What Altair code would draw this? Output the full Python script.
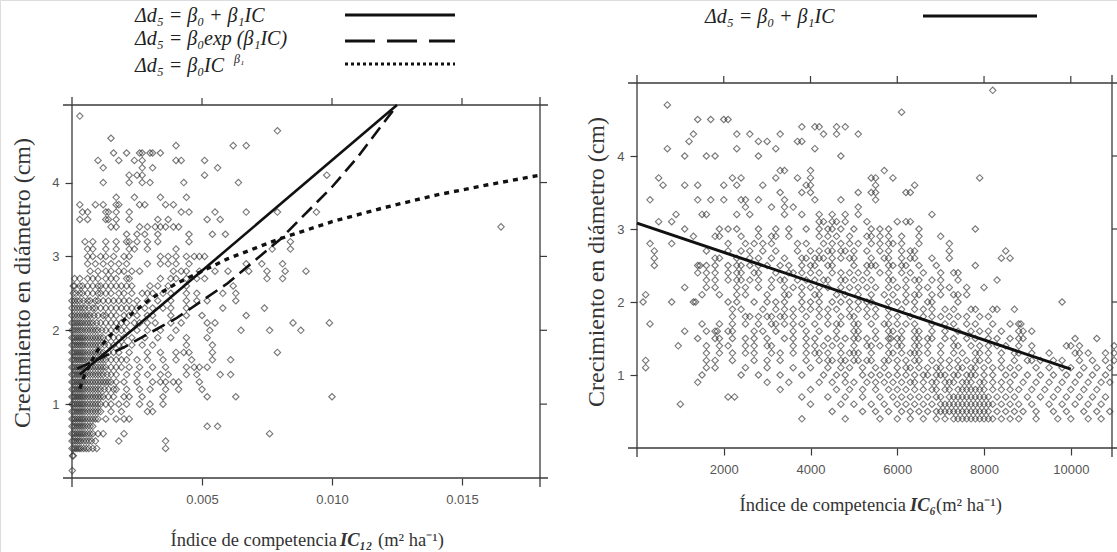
import altair as alt
import pandas as pd

# ---------------- data ----------------
# Left panel: growth levels (cm) and, for each level, IC12 values in units of 1e-4 (m2 ha-1)
left_growth = [4.9, 4.7, 4.6, 4.5, 4.4, 4.3, 4.2, 4.1, 4.0, 3.8, 3.7, 3.6, 3.5, 3.4, 3.3,
               3.2, 3.1, 3.0, 2.9, 2.8, 2.7, 2.6, 2.5, 2.4, 2.3, 2.2, 2.1, 2.0, 1.9, 1.8,
               1.7, 1.6, 1.5, 1.4, 1.3, 1.2, 1.1, 1.0, 0.9, 0.8, 0.7, 0.6, 0.5, 0.4, 0.3, 0.1]
left_ic12_e4 = [
    [3], [79], [15], [40, 62, 67], [16, 21, 26, 27, 30, 31, 34],
    [10, 18, 24, 27, 40, 42, 51], [12, 27, 31, 56], [22, 25, 27, 51, 98],
    [12, 22, 27, 30, 43, 64], [17, 24, 34, 44],
    [3, 9, 12, 17, 18, 26, 28, 36, 39],
    [4, 6, 13, 14, 17, 22, 42, 45, 55, 67, 79, 94],
    [3, 6, 13, 14, 17, 22, 33, 37, 52, 57],
    [15, 17, 26, 29, 32, 34, 36, 39, 41, 165],
    [21, 25, 28, 33, 45, 54, 59],
    [5, 8, 13, 17, 21, 22, 25, 29, 33, 45, 84],
    [6, 8, 13, 17, 22, 24, 29, 40, 77, 84],
    [6, 8, 11, 13, 16, 20, 22, 34, 37, 40, 44, 47, 49, 51],
    [6, 9, 12, 15, 18, 21, 29, 34, 37, 40, 45, 67, 73, 81],
    [7, 10, 13, 15, 18, 20, 23, 26, 39, 42, 44, 49, 55, 60, 68, 75, 82, 90],
    [1, 3, 6, 8, 10, 13, 15, 17, 21, 22, 34, 38, 40, 44, 48, 51, 75, 81],
    [0.5, 1, 3, 4, 6, 8, 10, 11, 13, 15, 17, 19, 21, 23, 30, 33, 37, 44, 62],
    [0.5, 1.5, 3, 4, 6, 8, 10, 11, 13, 15, 18, 20, 23, 27, 29, 31, 35, 38, 44, 48, 58, 63],
    [0, 1, 2, 3, 4.5, 6, 7, 9, 10, 12, 14, 16, 18, 20, 22, 25, 29, 33, 38, 44, 48, 52, 63],
    [0, 1, 2, 3, 4, 5, 6.5, 8, 9, 11, 13, 15, 17, 19, 21, 23, 25, 28, 31, 35, 38, 44, 58, 74],
    [0, 1, 2, 3, 4, 5, 6, 7, 8.5, 10, 12, 13, 15, 17, 20, 22, 25, 29, 31, 38, 44, 50, 67],
    [0, 0.8, 1.6, 2.4, 3.2, 4, 5, 6, 7, 8, 9.5, 11, 13, 15, 17, 19, 21, 24, 26, 29, 32, 38, 42, 52, 55, 85, 99],
    [0, 0.8, 1.6, 2.4, 3.2, 4, 5, 6, 7, 8, 9, 10, 11.5, 13, 15, 17, 19, 21, 25, 29, 34, 40, 53, 65, 76, 88],
    [0, 0.7, 1.4, 2.1, 2.8, 3.5, 4.2, 5, 6, 7, 8, 9, 10, 11, 12, 14, 16, 18, 20, 23, 28, 33, 38, 44, 52],
    [0, 0.7, 1.4, 2.1, 2.8, 3.5, 4.2, 5, 6, 7, 8, 9, 10, 11, 12.5, 14, 16, 18, 20, 23, 27, 31, 44, 54],
    [0, 0.7, 1.4, 2.1, 2.8, 3.5, 4.2, 5, 6, 7, 8, 9, 10, 11, 12, 14, 16, 18, 22, 29, 34, 40, 43, 45, 54, 79],
    [0, 0.7, 1.4, 2.1, 2.8, 3.5, 4.2, 5, 6, 7, 8, 9, 10, 11, 12, 13, 15, 17, 19, 21, 25, 29, 35, 40, 46, 54, 61],
    [0, 0.7, 1.4, 2.1, 2.8, 3.5, 4.2, 5, 6, 7, 8, 9, 10, 11, 12, 13, 15, 17, 19, 22, 26, 31, 36, 44, 47, 49, 52],
    [0, 0.7, 1.4, 2.1, 2.8, 3.5, 4.2, 5, 6, 7, 8, 9, 10, 11, 12, 13.5, 15, 17, 21, 25, 29, 34, 37, 44, 48, 57, 61],
    [0, 0.7, 1.4, 2.1, 2.8, 3.5, 4.2, 5, 6, 7, 8, 9, 10, 11, 12, 13, 14, 15, 17, 20, 25, 31, 34, 36, 39, 41, 49],
    [0, 0.7, 1.4, 2.1, 2.8, 3.5, 4.2, 5, 6, 7, 8, 9, 10, 11, 12.5, 14, 16, 17, 21, 26, 30, 36, 41, 50],
    [0, 0.7, 1.4, 2.1, 2.8, 3.5, 4.2, 5, 6, 7, 8, 9, 10, 11, 12, 14, 16, 20, 22, 27, 35, 52, 63, 100],
    [0, 0.7, 1.4, 2.1, 2.8, 3.5, 4.2, 5, 6, 7, 8, 9, 10, 11, 13, 15, 18, 21, 26, 30, 35],
    [0, 0.7, 1.4, 2.1, 2.8, 3.5, 4.2, 5, 6, 7, 8, 9, 10, 11, 15, 19, 29, 31],
    [0, 0.7, 1.4, 2.1, 2.8, 3.5, 4.2, 5, 6, 7, 8, 9, 10, 13, 17, 20, 22],
    [0, 0.7, 1.4, 2.1, 2.8, 3.5, 4.2, 5, 6, 7, 8, 52, 56],
    [0, 0.7, 1.4, 2.1, 2.8, 3.5, 4.2, 5, 6, 7, 8, 10, 12, 20, 76],
    [0, 0.7, 1.4, 2.1, 2.8, 3.5, 4.5, 5.5, 6.5, 7.5, 9, 18, 36],
    [0, 0.7, 1.4, 2.1, 2.8, 3.5, 4.5, 5.5, 6.5, 8, 9.5, 36],
    [0.2, 0.5], [0.1],
]

# Left panel fitted curves, IC12 in units of 1e-4
lin_ic_e4 = [3, 125]
lin_growth = [1.40, 5.05]
exp_ic_e4 = [2, 20, 40, 60, 80, 100, 110, 124]
exp_growth = [1.48, 1.77, 2.16, 2.64, 3.23, 3.94, 4.35, 5.0]
pow_ic_e4 = [3, 5, 10, 20, 30, 40, 60, 80, 100, 120, 140, 160, 180]
pow_growth = [1.21, 1.41, 1.74, 2.14, 2.42, 2.63, 2.97, 3.24, 3.47, 3.66, 3.83, 3.97, 4.10]

# Right panel: growth levels (cm) and, for each level, IC6 values in hundreds (m2 ha-1)
right_growth = [4.9, 4.7, 4.6, 4.5, 4.4, 4.3, 4.2, 4.1, 4.0, 3.8, 3.7, 3.6, 3.5, 3.4, 3.3,
                3.2, 3.1, 3.0, 2.9, 2.8, 2.7, 2.6, 2.5, 2.4, 2.3, 2.2, 2.1, 2.0, 1.9, 1.8,
                1.7, 1.6, 1.5, 1.4, 1.3, 1.2, 1.1, 1.0, 0.9, 0.8, 0.7, 0.6, 0.5, 0.4]
right_ic6_e2 = [
    [82], [7], [61], [14, 17, 20, 21], [38, 41, 42, 46, 48],
    [13, 23, 26, 33, 43, 46, 51], [12, 28, 30, 37, 38], [7, 23, 32, 41],
    [11, 16, 18, 28, 47], [33, 34, 40, 57],
    [5, 22, 24, 32, 37, 40, 54, 55, 59, 79],
    [6, 11, 14, 20, 23, 29, 39, 40, 55, 64],
    [33, 38, 40, 51, 54, 55, 62, 63],
    [3, 14, 17, 20, 24, 25, 28, 34, 41, 47, 55],
    [25, 31, 34, 36, 51],
    [9, 15, 16, 23, 26, 34, 38, 42, 45, 48, 51, 68],
    [5, 8, 42, 43, 45, 46, 48, 53, 60, 62, 63],
    [11, 19, 21, 23, 28, 32, 35, 39, 42, 44, 45, 47, 50, 54, 56, 58, 65, 78],
    [13, 18, 19, 24, 28, 31, 32, 35, 42, 44, 46, 49, 53, 54, 56, 58, 61, 65, 70],
    [3, 8, 21, 25, 27, 29, 31, 37, 39, 43, 45, 47, 49, 51, 54, 56, 58, 59, 61, 65, 72],
    [4, 16, 21, 24, 26, 29, 32, 37, 40, 42, 44, 45, 47, 48, 50, 53, 56, 58, 61, 63, 64, 72, 85],
    [4, 18, 19, 23, 26, 28, 31, 34, 38, 39, 41, 42, 43, 45, 47, 49, 50, 54, 57, 58, 61, 63, 64, 68, 72, 84, 86],
    [4, 14, 14.5, 16, 18, 21, 23, 24, 26, 28, 30, 33, 35, 38, 40, 41, 44, 45, 50, 53, 54, 55, 58, 59, 61, 62, 65, 69, 78],
    [14, 16, 18, 21, 23, 24, 27, 28, 32, 35, 36, 38, 40, 42, 45, 47, 49, 51, 53, 56, 58, 61, 63, 66, 70, 73, 74],
    [16, 18, 21, 23, 24, 26, 28, 31, 33, 34, 37, 39, 41, 43, 44, 47, 48, 50, 52, 54, 58, 59, 62, 64, 65, 68, 70, 74, 83],
    [11, 16, 18, 23, 25, 28, 31, 34, 36, 38, 40, 42, 44, 47, 49, 51, 53, 55, 58, 60, 62, 65, 67, 70, 72, 76, 80],
    [2, 15, 19, 23, 25, 30, 34, 35, 38, 41, 42, 46, 48, 51, 54, 57, 59, 62, 64, 65, 68, 70, 73, 74, 76],
    [1.4, 8, 13, 13.5, 21, 23, 27, 30, 32, 34, 38, 40, 42, 45, 47, 49, 51, 53, 54, 58, 60, 62, 64, 67, 68, 74, 98],
    [22, 24, 29, 32, 34, 36, 38, 40, 42, 44, 46, 49, 51, 53, 55, 58, 61, 64, 66, 68, 71, 73, 77, 78, 82, 83, 87],
    [22, 25, 26, 28, 30, 31, 33, 34, 36, 39, 42, 44, 47, 49, 50, 53, 55, 58, 60, 63, 66, 68, 70, 72, 74, 76, 79, 81],
    [3, 15, 19, 22, 25, 28, 31, 32, 34, 36, 38, 41, 44, 46, 47, 50, 51, 54, 57, 58, 60, 62, 64, 68, 71, 73, 76, 78, 82, 86, 88, 88.5],
    [11, 16, 18, 18.5, 21, 22, 27, 29, 32, 36, 39, 42, 46, 50, 51, 55, 58, 59, 61, 64, 65, 68, 71, 74, 77, 79, 81, 84, 88, 89, 91],
    [14, 18, 19, 22, 25, 27, 30, 34, 36, 39, 41, 44, 46, 48, 50, 51, 53, 55, 58, 58.5, 60, 61, 64, 65, 67, 68, 71, 73, 76, 78, 81, 83, 86, 88, 89, 101, 106],
    [9.5, 16, 19, 21, 25, 27, 30, 31, 36, 39, 41, 43, 45, 47, 50, 53, 54, 56, 58, 60, 61, 64, 65, 67, 70, 73, 74, 77, 79, 81, 83, 85, 88, 91, 99, 100, 102, 110],
    [16, 19, 22, 25, 27, 31, 33, 36, 39, 41, 42, 44, 47, 49, 50, 51, 54, 58, 59, 61, 63, 64, 65, 67, 70, 73, 75, 78, 79, 81, 84, 87, 88, 91, 95, 101, 102, 104, 108, 110],
    [2, 16, 18, 22, 27, 30, 33, 39, 42, 44, 45, 47, 48, 50, 51, 53, 54, 57, 58, 60, 62, 64, 65, 68, 70, 72, 74, 76, 78, 79, 81, 84, 87, 90, 91, 93, 96, 98, 102, 105, 108, 110],
    [2, 16, 18, 25, 30, 36, 40, 44, 47, 49, 52, 55, 57, 60, 62, 63, 65, 67, 69, 70, 72, 74, 75, 77, 78, 80, 82, 84, 86, 88, 92, 95, 98, 100, 103, 106, 109],
    [15, 24, 28, 33, 38, 43, 46, 48, 52, 54, 56, 58, 60, 62, 64, 66, 67, 69, 70, 71, 73, 74, 76, 77, 78, 80, 82, 85, 87, 90, 93, 96, 99, 102, 105, 108],
    [14, 30, 35, 42, 45, 48, 50, 53, 55, 57, 59, 61, 63, 64, 66, 68, 69, 71, 72, 73, 75, 76, 77, 79, 80, 82, 84, 86, 89, 92, 95, 98, 101, 104, 107, 109],
    [33, 40, 46, 49, 52, 55, 58, 60, 62, 64, 66, 68, 69, 71, 72, 74, 75, 76, 77, 78, 79, 80, 82, 84, 86, 88, 91, 94, 97, 100, 103, 106],
    [21, 22.5, 38, 44, 48, 52, 56, 59, 61, 63, 65, 67, 69, 70, 72, 73, 74, 75, 76, 77, 78, 79, 80, 81, 83, 85, 87, 90, 93, 96, 99, 102, 105, 108],
    [10, 40, 47, 50, 54, 57, 60, 62, 64, 66, 68, 70, 71, 72, 73, 74, 75, 76, 77, 78, 79, 80, 81, 82, 84, 86, 88, 91, 95, 98, 101, 104, 107],
    [45, 52, 55, 58, 61, 63, 65, 67, 69, 70, 71, 72, 73, 74, 75, 76, 77, 78, 79, 80, 81, 83, 85, 87, 89, 92, 96, 99, 103, 106, 109],
    [38, 48, 56, 60, 63, 66, 69, 71, 73, 74, 75, 76, 77, 78, 79, 80, 81, 82, 84, 86, 88, 92, 97, 100, 104, 107],
]

# Right panel fitted line (two points read on the drawn line)
rlin_ic = [0, 10000]
rlin_growth = [3.08, 1.08]

left_xticks = [0.005, 0.010, 0.015]
right_xticks = [2000, 4000, 6000, 8000, 10000]
yticks = [1, 2, 3, 4]

# ---------------- tables ----------------
left_pts = pd.DataFrame([(x * 1e-4, g) for g, xs in zip(left_growth, left_ic12_e4) for x in xs],
                        columns=["ic", "g"])
right_pts = pd.DataFrame([(x * 100, g) for g, xs in zip(right_growth, right_ic6_e2) for x in xs],
                         columns=["ic", "g"])
lin_df = pd.DataFrame({"ic": [v * 1e-4 for v in lin_ic_e4], "g": lin_growth})
exp_df = pd.DataFrame({"ic": [v * 1e-4 for v in exp_ic_e4], "g": exp_growth})
pow_df = pd.DataFrame({"ic": [v * 1e-4 for v in pow_ic_e4], "g": pow_growth})
rlin_df = pd.DataFrame({"ic": rlin_ic, "g": rlin_growth})
one = pd.DataFrame({"k": [0]})

# ---------------- styling ----------------
AX = "#3a3a3a"
LAB = "#555555"
SERIF = "Liberation Serif"
SANS = "Liberation Sans"

LXMAX, LYMAX = 0.018, 5.05
RXMAX, RYMAX = 10950, 5.0
LX = alt.Scale(domain=[0, LXMAX], range=[72, 540], nice=False, zero=False)
LY = alt.Scale(domain=[0, LYMAX], range=[478, 105], nice=False, zero=False)
RX = alt.Scale(domain=[0, RXMAX], range=[637, 1112], nice=False, zero=False)
RY = alt.Scale(domain=[0, RYMAX], range=[448, 83], nice=False, zero=False)

axis_common = dict(domain=False, grid=False, tickSize=7, tickColor=AX, tickWidth=1.2,
                   labelFont=SANS, labelFontSize=13, labelColor=LAB, labelFlush=False,
                   labelOverlap=False)

pt_style = dict(shape="diamond", filled=False, size=42, strokeWidth=1.1, color="#151515",
                strokeOpacity=0.82)


def frame(xmax, ymax, xticks):
    base = alt.Chart(one)
    h = dict(color=AX, strokeWidth=1.3)
    bottom = base.mark_rule(xOffset=-9, x2Offset=8, **h).encode(
        x=alt.datum(0), x2=alt.datum(xmax), y=alt.datum(0))
    top = base.mark_rule(xOffset=-9, x2Offset=8, **h).encode(
        x=alt.datum(0), x2=alt.datum(xmax), y=alt.datum(ymax))
    left = base.mark_rule(yOffset=9, y2Offset=-8, **h).encode(
        x=alt.datum(0), y=alt.datum(0), y2=alt.datum(ymax))
    right = base.mark_rule(yOffset=9, y2Offset=-8, **h).encode(
        x=alt.datum(xmax), y=alt.datum(0), y2=alt.datum(ymax))
    tt = alt.Chart(pd.DataFrame({"v": xticks})).mark_rule(y2Offset=-7, color=AX, strokeWidth=1.2).encode(
        x="v:Q", y=alt.datum(ymax), y2=alt.datum(ymax))
    rt = alt.Chart(pd.DataFrame({"v": yticks})).mark_rule(x2Offset=7, color=AX, strokeWidth=1.2).encode(
        y="v:Q", x=alt.datum(xmax), x2=alt.datum(xmax))
    return [bottom, top, left, right, tt, rt]


# ---------------- left panel ----------------
left_scatter = alt.Chart(left_pts).mark_point(**pt_style).encode(
    x=alt.X("ic:Q", scale=LX, title=None,
            axis=alt.Axis(orient="bottom", offset=-74, values=left_xticks, format=".3f",
                          labelPadding=8, **axis_common)),
    y=alt.Y("g:Q", scale=LY, title=None,
            axis=alt.Axis(orient="left", offset=-72, values=yticks, format="d",
                          labelPadding=6, **axis_common)),
)
lin_line = alt.Chart(lin_df).mark_line(color="#111", strokeWidth=2.6).encode(x="ic:Q", y="g:Q")
exp_line = alt.Chart(exp_df).mark_line(color="#111", strokeWidth=2.6, strokeDash=[14, 7]).encode(
    x="ic:Q", y="g:Q")
pow_line = alt.Chart(pow_df).mark_line(color="#111", strokeWidth=3.4, strokeDash=[5, 5]).encode(
    x="ic:Q", y="g:Q")
left_group = alt.layer(left_scatter, *frame(LXMAX, LYMAX, left_xticks), lin_line, exp_line, pow_line)

# ---------------- right panel ----------------
right_scatter = alt.Chart(right_pts).mark_point(**pt_style).encode(
    x=alt.X("ic:Q", scale=RX, title=None,
            axis=alt.Axis(orient="bottom", offset=-104, values=right_xticks, format="d",
                          labelPadding=8, **axis_common)),
    y=alt.Y("g:Q", scale=RY, title=None,
            axis=alt.Axis(orient="left", offset=-637, values=yticks, format="d",
                          labelPadding=6, **axis_common)),
)
rlin_line = alt.Chart(rlin_df).mark_line(color="#111", strokeWidth=3).encode(x="ic:Q", y="g:Q")
right_group = alt.layer(right_scatter, *frame(RXMAX, RYMAX, right_xticks), rlin_line)


# ---------------- texts (legends and axis titles) ----------------
def txt(s, x, y, size, **kw):
    props = dict(font=SERIF, fontSize=size, color="#222", align="left", baseline="middle")
    props.update(kw)
    return alt.Chart(one).mark_text(text=s, **props).encode(x=alt.value(x), y=alt.value(y))


def sample(x1, x2, y, **kw):
    return alt.Chart(one).mark_rule(color="#111", **kw).encode(
        x=alt.value(x1), x2=alt.value(x2), y=alt.value(y))


texts = [
    txt("Δd₅ =  β₀ + β₁IC", 135, 16, 20, fontStyle="italic"),
    txt("Δd₅ =  β₀exp (β₁IC)", 135, 39, 20, fontStyle="italic"),
    txt("Δd₅ =  β₀IC", 135, 66, 20, fontStyle="italic"),
    txt("β₁", 234, 59, 12, fontStyle="italic"),
    sample(345, 455, 15, strokeWidth=3),
    sample(345, 455, 41, strokeWidth=3, strokeDash=[30, 12]),
    sample(345, 455, 64, strokeWidth=3, strokeDash=[3, 3]),
    txt("Δd₅ =  β₀ + β₁IC", 705, 17, 20, fontStyle="italic"),
    sample(923, 1037, 16, strokeWidth=3),
    # left x title
    txt("Índice de competencia", 337, 540, 18.5, align="right", color="#333"),
    txt("IC₁₂", 340, 540, 18.5, fontStyle="italic", fontWeight="bold", color="#333"),
    txt("(m² ha⁻¹)", 378, 540, 18.5, color="#333"),
    # right x title
    txt("Índice de competencia", 906, 505, 18.5, align="right", color="#333"),
    txt("IC₆", 910, 505, 18.5, fontStyle="italic", fontWeight="bold", color="#333"),
    txt("(m² ha⁻¹)", 936, 505, 18.5, color="#333"),
    # y titles
    txt("Crecimiento en diámetro (cm)", 23, 283, 24, align="center", angle=270, color="#333"),
    txt("Crecimiento en diámetro (cm)", 597, 262, 24, align="center", angle=270, color="#333"),
]

chart = alt.layer(left_group, right_group, *texts).resolve_scale(
    x="independent", y="independent"
).properties(
    width=1117, height=552, padding=0, autosize=alt.AutoSizeParams(type="none")
).configure_view(stroke=None).configure(background="white")

chart.save("out.html", embed_options={"renderer": "svg", "actions": False})
